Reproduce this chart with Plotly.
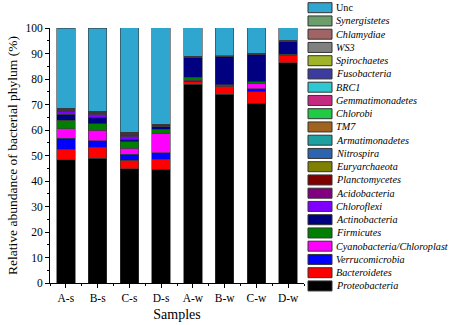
import plotly.graph_objects as go

samples = ["A-s", "B-s", "C-s", "D-s", "A-w", "B-w", "C-w", "D-w"]

proteobacteria = [48.3, 48.9, 44.9, 44.6, 78.0, 74.0, 70.5, 86.4]
bacteroidetes = [4.2, 4.4, 3.3, 4.0, 1.0, 3.2, 4.6, 2.9]
verrucomicrobia = [4.3, 2.5, 2.3, 2.5, 0.3, 0.1, 1.0, 0.1]
cyanobacteria = [3.7, 4.1, 2.3, 7.5, 0.3, 0.1, 2.3, 0.1]
firmicutes = [3.3, 2.6, 2.5, 1.6, 1.1, 0.4, 0.6, 0.3]
actinobacteria = [2.4, 2.5, 1.1, 1.1, 7.6, 11.0, 10.5, 5.0]
chloroflexi = [0.9, 1.2, 1.1, 0.2, 0.1, 0.05, 0.1, 0.05]
acidobacteria = [0.6, 0.4, 0.9, 0.2, 0.1, 0.05, 0.1, 0.05]
planctomycetes = [0.3, 0.3, 0.3, 0.3, 0.2, 0.1, 0.2, 0.1]
euryarchaeota = [0.05, 0.05, 0.05, 0.05, 0.02, 0.02, 0.02, 0.02]
nitrospira = [0.1, 0.1, 0.1, 0.05, 0.02, 0.01, 0.03, 0.01]
armatimonadetes = [0.05, 0.05, 0.05, 0.03, 0.01, 0.01, 0.02, 0.01]
tm7 = [0.03, 0.03, 0.04, 0.03, 0.02, 0.02, 0.03, 0.02]
chlorobi = [0.05, 0.04, 0.05, 0.03, 0.01, 0.01, 0.02, 0.01]
gemmatimonadetes = [0.08, 0.06, 0.06, 0.04, 0.01, 0.01, 0.02, 0.01]
brc1 = [0.03, 0.02, 0.02, 0.02, 0.01, 0.01, 0.01, 0.01]
fusobacteria = [0.02, 0.02, 0.01, 0.01, 0.01, 0.01, 0.02, 0.01]
spirochaetes = [0.03, 0.03, 0.02, 0.02, 0.01, 0.01, 0.01, 0.01]
ws3 = [0.02, 0.02, 0.02, 0.01, 0.01, 0.01, 0.01, 0.01]
chlamydiae = [0.02, 0.01, 0.01, 0.01, 0.01, 0.01, 0.01, 0.01]
synergistetes = [0.01, 0.01, 0.01, 0.01, 0.01, 0.01, 0.01, 0.01]
unc = [31.5, 32.6, 40.9, 37.7, 11.2, 10.9, 9.9, 4.9]

# stacking order bottom -> top
series = [
    ("Proteobacteria", proteobacteria, "#000000", True),
    ("Bacteroidetes", bacteroidetes, "#FF0000", True),
    ("Verrucomicrobia", verrucomicrobia, "#0000FF", True),
    ("Cyanobacteria/Chloroplast", cyanobacteria, "#FF00FF", True),
    ("Firmicutes", firmicutes, "#008000", True),
    ("Actinobacteria", actinobacteria, "#000080", True),
    ("Chloroflexi", chloroflexi, "#8000FF", True),
    ("Acidobacteria", acidobacteria, "#800080", True),
    ("Planctomycetes", planctomycetes, "#800000", True),
    ("Euryarchaeota", euryarchaeota, "#808000", True),
    ("Nitrospira", nitrospira, "#2C64B0", True),
    ("Armatimonadetes", armatimonadetes, "#1FA0A0", True),
    ("TM7", tm7, "#A0641E", True),
    ("Chlorobi", chlorobi, "#1FCB45", True),
    ("Gemmatimonadetes", gemmatimonadetes, "#C42A80", True),
    ("BRC1", brc1, "#2DC8D2", True),
    ("Fusobacteria", fusobacteria, "#3C3C9E", True),
    ("Spirochaetes", spirochaetes, "#A0B42A", True),
    ("WS3", ws3, "#808080", True),
    ("Chlamydiae", chlamydiae, "#A06464", True),
    ("Synergistetes", synergistetes, "#6B9E6B", True),
    ("Unc", unc, "#2EA6D0", False),
]

FONT = "Liberation Serif, Times New Roman, serif"
xpos = list(range(len(samples)))

fig = go.Figure()
for name, vals, color, _ in series:
    fig.add_trace(go.Bar(
        x=xpos, y=vals, name=name, showlegend=False,
        marker=dict(color=color, line=dict(color="#3a3a3a", width=0.6)),
    ))

W, H = 454, 325
L, T = 50, 28
R = W - 304
B = H - 283
pw, ph = W - L - R, H - T - B

def px_x(x):
    return (x - L) / pw

def px_y(y):
    return (H - B - y) / ph

shapes = []
annotations = []
legend_items = list(reversed(series))
for i, (name, vals, color, italic) in enumerate(legend_items):
    yc = 7.7 + i * 13.25
    shapes.append(dict(
        type="rect", xref="paper", yref="paper",
        x0=px_x(308), x1=px_x(332), y0=px_y(yc + 5), y1=px_y(yc - 5),
        fillcolor=color, line=dict(color="#333333", width=1),
    ))
    annotations.append(dict(
        xref="paper", yref="paper", x=px_x(334), y=px_y(yc),
        xanchor="left", yanchor="middle", showarrow=False,
        text=f"<i>{name}</i>" if italic else name,
        font=dict(family=FONT, size=10.2, color="black"),
    ))

fig.update_layout(
    width=W, height=H,
    margin=dict(l=L, r=R, t=T, b=B, autoexpand=False),
    paper_bgcolor="white", plot_bgcolor="white",
    barmode="stack", bargap=0.42,
    font=dict(family=FONT, color="black", size=11),
    shapes=shapes, annotations=annotations,
    showlegend=False,
)
fig.update_xaxes(
    range=[-0.5, 7.5], tickvals=xpos, ticktext=samples,
    showline=True, linecolor="black", linewidth=1,
    ticks="outside", ticklen=4, tickcolor="black",
    minor=dict(dtick=0.5, tick0=0, ticks="outside", ticklen=2, tickcolor="black"),
    showgrid=False, zeroline=False,
    tickfont=dict(family=FONT, size=11.5),
    title=dict(text="Samples", font=dict(family=FONT, size=14), standoff=6),
)
fig.update_yaxes(
    range=[0, 100], dtick=10,
    showline=True, linecolor="black", linewidth=1,
    ticks="outside", ticklen=4, tickcolor="black",
    minor=dict(dtick=5, ticks="outside", ticklen=2, tickcolor="black"),
    showgrid=False, zeroline=False,
    tickfont=dict(family=FONT, size=11.5),
    title=dict(text="Relative abundance of bacterial phylum (%)",
               font=dict(family=FONT, size=13.5), standoff=4),
)

fig.write_html("out.html", config={"displayModeBar": False},
               post_script="document.body.style.margin='0';")
